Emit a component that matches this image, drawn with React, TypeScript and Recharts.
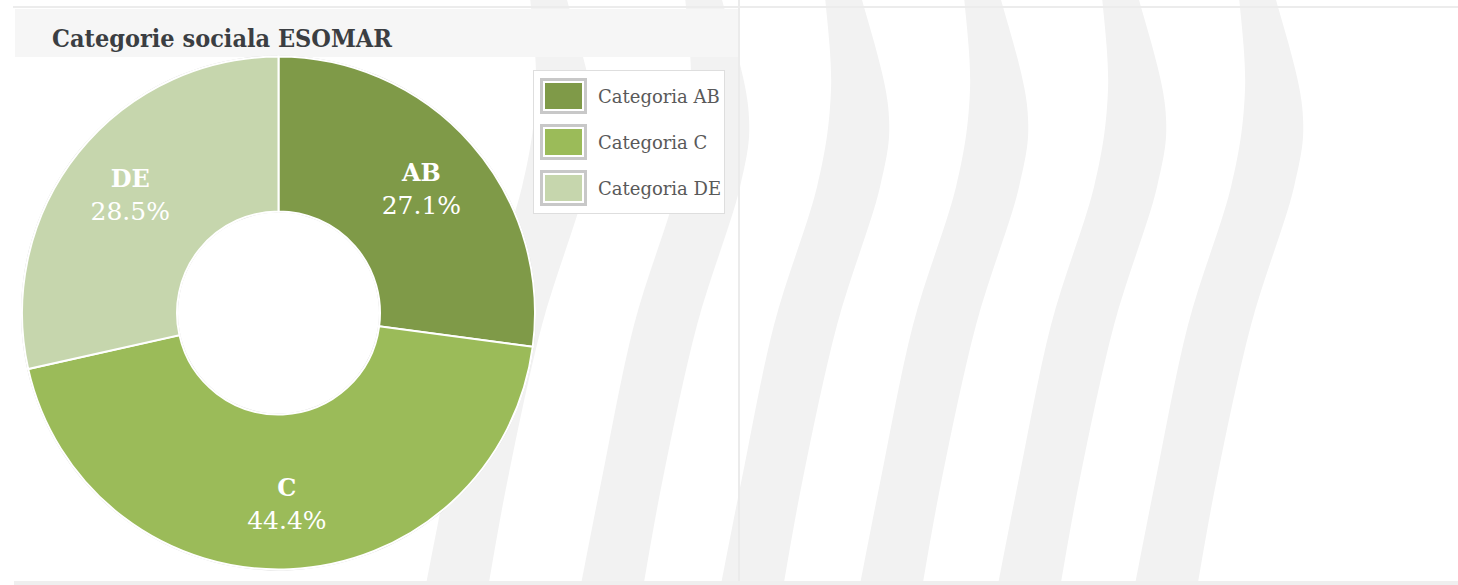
import React from 'react';
import { PieChart, Pie, Cell } from 'recharts';

const title = 'Categorie sociala ESOMAR';
const categories = ['AB', 'C', 'DE'];
const legendLabels = ['Categoria AB', 'Categoria C', 'Categoria DE'];
const shares = [27.1, 44.4, 28.5];
const colors = ['#7f9a48', '#9bbb59', '#c6d6ad'];

const data = categories.map((c, i) => ({ name: c, legend: legendLabels[i], value: shares[i] }));

const FONT = '"DejaVu Serif", serif';
const CX = 278.5;
const CY = 313;
const OUTER = 256.5;
const INNER = 101.5;
const LABEL_R = 190;
const RAD = Math.PI / 180;

// decorative watermark stripes (background only)
const stripeOffsets = [530, 685, 825, 964, 1102, 1239];
const leftEdge: number[][] = [[0, -4], [6, 90], [-8, 187], [-51, 325], [-83, 478], [-107, 600]];
const rightEdge: number[][] = [[-44, 600], [-22, 478], [12, 325], [55, 187], [63, 105], [36, -4]];

function curve(pts: number[][]) {
  let d = '';
  for (let i = 0; i < pts.length - 1; i++) {
    const p0 = pts[i - 1] || pts[i];
    const p1 = pts[i];
    const p2 = pts[i + 1];
    const p3 = pts[i + 2] || p2;
    const c1 = [p1[0] + (p2[0] - p0[0]) / 6, p1[1] + (p2[1] - p0[1]) / 6];
    const c2 = [p2[0] - (p3[0] - p1[0]) / 6, p2[1] - (p3[1] - p1[1]) / 6];
    d += ` C${c1[0]},${c1[1]} ${c2[0]},${c2[1]} ${p2[0]},${p2[1]}`;
  }
  return d;
}

function stripePath(x0: number) {
  const l = leftEdge.map(([x, y]) => [x + x0, y]);
  const r = rightEdge.map(([x, y]) => [x + x0, y]);
  return `M${l[0][0]},${l[0][1]}` + curve(l) + ` L${r[0][0]},${r[0][1]}` + curve(r) + ' Z';
}

const renderLabel = (props: any) => {
  const cx = props.cx ?? CX;
  const cy = props.cy ?? CY;
  const x = cx + LABEL_R * Math.cos(-props.midAngle * RAD);
  const y = cy + LABEL_R * Math.sin(-props.midAngle * RAD);
  const name = props.name ?? props.payload?.name;
  const value = props.value ?? props.payload?.value;
  return (
    <text x={x} y={y} textAnchor="middle" fill="#ffffff" fontFamily={FONT}>
      <tspan x={x} dy={-7} fontWeight="bold" fontSize={24}>{name}</tspan>
      <tspan x={x} dy={33} fontSize={25}>{Number(value).toFixed(1)}%</tspan>
    </text>
  );
};

export default function App() {
  return (
    <div style={{ position: 'absolute', left: 0, top: 0, width: 1458, height: 585, background: '#ffffff', overflow: 'hidden' }}>
      <svg width={1458} height={585} style={{ position: 'absolute', left: 0, top: 0 }}>
        {stripeOffsets.map((x0) => (
          <path key={x0} d={stripePath(x0)} fill="#f2f2f2" />
        ))}
        <rect x={13} y={6} width={1445} height={2} fill="#ececec" />
        <rect x={15} y={9} width={723} height={48} fill="#f6f6f6" />
        <rect x={738} y={0} width={2} height={585} fill="#ebebeb" />
        <rect x={14} y={581} width={1444} height={4} fill="#efefef" />
        <text x={52} y={47} fontFamily={FONT} fontWeight="bold" fontSize={24} fill="#3b3e42" textLength={340} lengthAdjust="spacingAndGlyphs">{title}</text>
      </svg>
      <div style={{ position: 'absolute', left: 0, top: 0 }}>
        <PieChart width={1458} height={585} margin={{ top: 0, right: 0, bottom: 0, left: 0 }}>
          <Pie data={[{ v: 1 }]} dataKey="v" cx={CX} cy={CY} innerRadius={OUTER} outerRadius={OUTER + 1} fill="#d2d2d2" stroke="none" isAnimationActive={false} />
          <Pie data={[{ v: 1 }]} dataKey="v" cx={CX} cy={CY} innerRadius={INNER - 1} outerRadius={INNER} fill="#d6d6d6" stroke="none" isAnimationActive={false} />
          <Pie
            data={data}
            dataKey="value"
            nameKey="name"
            cx={CX}
            cy={CY}
            innerRadius={INNER}
            outerRadius={OUTER}
            startAngle={90}
            endAngle={-270}
            stroke="#ffffff"
            strokeWidth={2}
            label={renderLabel}
            labelLine={false}
            isAnimationActive={false}
          >
            {data.map((d, i) => (
              <Cell key={d.name} fill={colors[i]} />
            ))}
          </Pie>
        </PieChart>
      </div>
      <svg width={192} height={144} style={{ position: 'absolute', left: 533, top: 70 }}>
        <rect x={0.5} y={0.5} width={191} height={143} fill="#ffffff" stroke="#dedede" strokeWidth={1} />
        {data.map((d, i) => (
          <g key={d.name} transform={`translate(0, ${i * 46})`}>
            <rect x={8.5} y={9.5} width={44} height={33} fill="#ffffff" stroke="#c8c8c8" strokeWidth={3} />
            <rect x={12} y={13} width={37} height={26} fill={colors[i]} />
            <text x={65} y={33} fontFamily={FONT} fontSize={18} fill="#595959">{d.legend}</text>
          </g>
        ))}
      </svg>
    </div>
  );
}
